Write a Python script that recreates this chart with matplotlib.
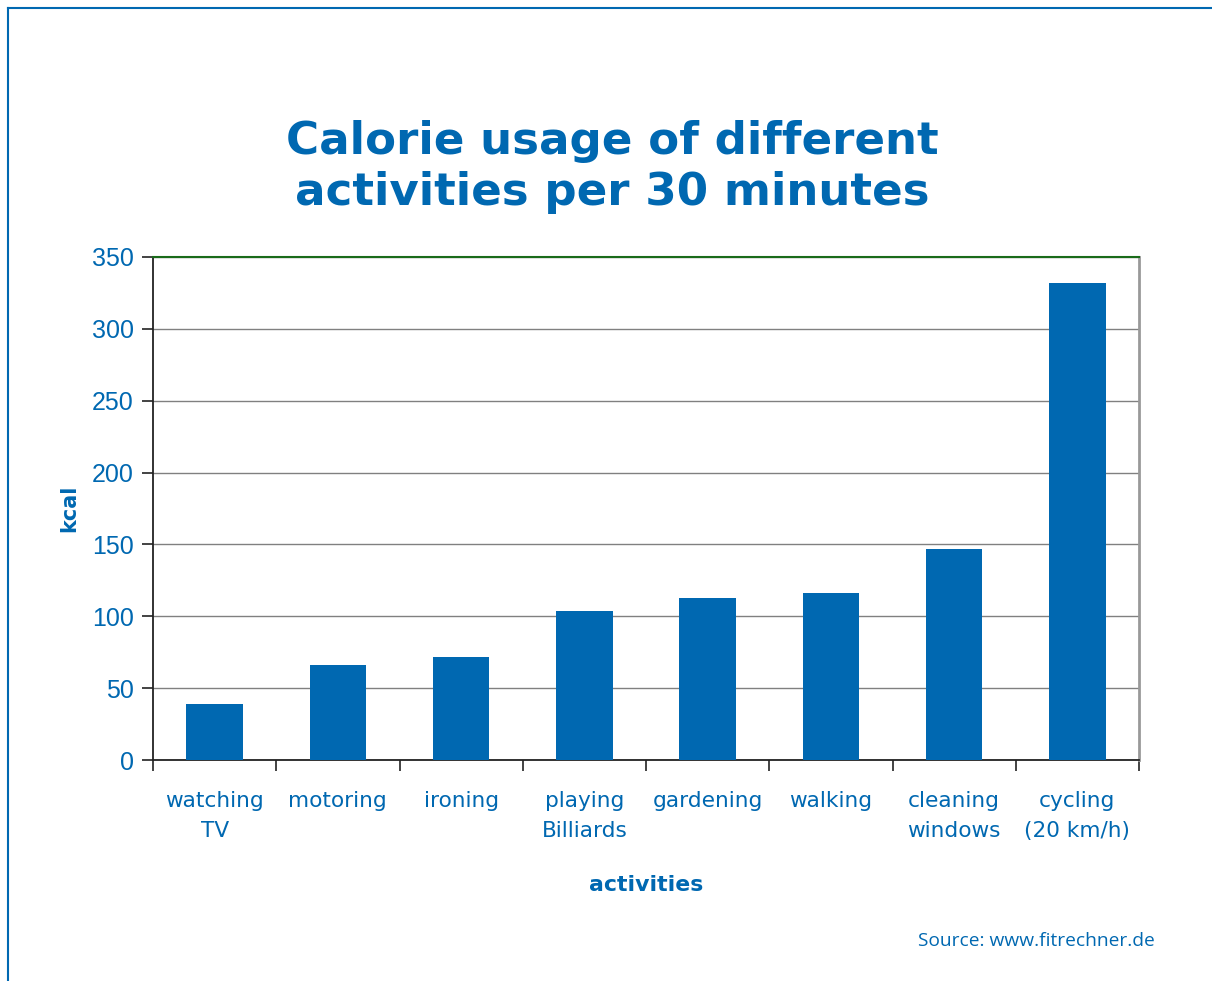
import numpy as np
import matplotlib
matplotlib.use("Agg")
import matplotlib.pyplot as plt
from matplotlib.lines import Line2D

activities = ["watching\nTV", "motoring", "ironing", "playing\nBilliards",
              "gardening", "walking", "cleaning\nwindows", "cycling\n(20 km/h)"]
kcal = [39, 66, 72, 104, 113, 116, 147, 332]

blue = "#0068B1"

fig = plt.figure(figsize=(12.12, 9.81), dpi=100)
ax = fig.add_axes([153 / 1212, 1 - 760 / 981, (1139 - 153) / 1212, (760 - 257) / 981])

x = np.arange(len(kcal))
ax.bar(x, kcal, width=0.46, color=blue, zorder=3)

ax.set_xlim(-0.5, len(kcal) - 0.5)
ax.set_ylim(0, 350)
ax.set_yticks(np.arange(0, 351, 50))
ax.yaxis.grid(True, color="#808080", linewidth=1.0, zorder=0)

# ticks on category boundaries, labels centred under bars
ax.set_xticks(np.arange(-0.5, len(kcal), 1.0))
ax.set_xticklabels([])
ax.set_xticks(x, minor=True)
ax.set_xticklabels(activities, minor=True, fontsize=15.6, color=blue,
                   fontfamily="DejaVu Sans", linespacing=1.68)
ax.tick_params(axis="x", which="minor", length=0, pad=22)
ax.tick_params(axis="x", which="major", length=8, width=1.2, color="#222222")
ax.tick_params(axis="y", length=8, width=1.2, color="#222222", pad=6,
               labelsize=18, labelcolor=blue)
for lab in ax.get_yticklabels():
    lab.set_fontfamily("Liberation Sans")

ax.spines["left"].set_color("#222222")
ax.spines["bottom"].set_color("#222222")
ax.spines["left"].set_linewidth(1.3)
ax.spines["bottom"].set_linewidth(1.3)
ax.spines["right"].set_color("#999999")
ax.spines["right"].set_linewidth(2)
ax.spines["top"].set_color("#1a6b1a")
ax.spines["top"].set_linewidth(1.5)

ax.set_ylabel("kcal", fontsize=15, fontweight="bold", color=blue, labelpad=9)
ax.set_xlabel("activities", fontsize=15.8, fontweight="bold", color=blue, labelpad=24)

fig.text(0.505, 1 - 167 / 981, "Calorie usage of different\nactivities per 30 minutes",
         ha="center", va="center", fontsize=32.5, fontweight="bold", color=blue,
         fontfamily="DejaVu Sans", linespacing=1.26)
fig.text(1155 / 1212, 1 - 941 / 981, "Source: www.fitrechner.de",
         ha="right", va="center", fontsize=13.8, color=blue, fontfamily="Open Sans")

# outer frame lines (top and left)
fig.add_artist(Line2D([8 / 1212, 1.0], [1 - 8 / 981, 1 - 8 / 981],
                      transform=fig.transFigure, color=blue, linewidth=1.5))
fig.add_artist(Line2D([8 / 1212, 8 / 1212], [0.0, 1 - 8 / 981],
                      transform=fig.transFigure, color=blue, linewidth=1.5))

fig.savefig("out.png", dpi=100)
